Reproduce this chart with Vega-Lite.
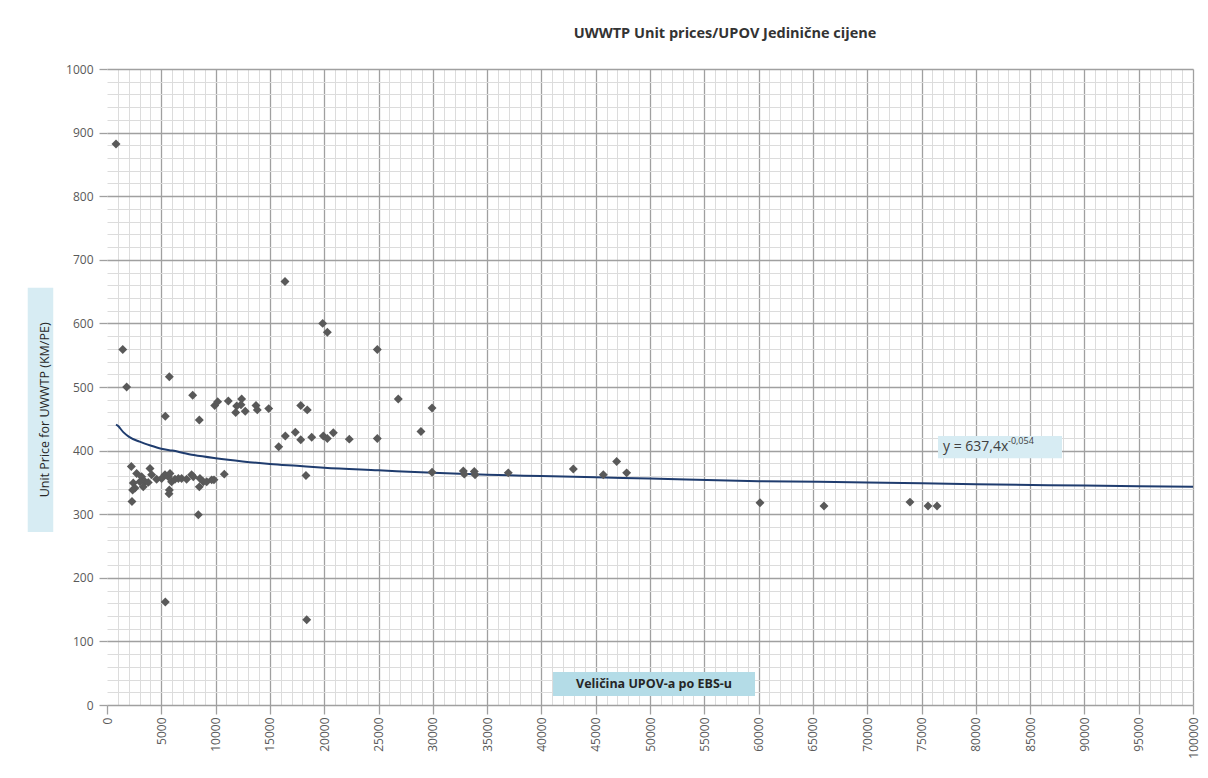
{
  "$schema": "https://vega.github.io/schema/vega-lite/v6.json",
  "autosize": "none",
  "width": 1086,
  "height": 636,
  "padding": {"left": 107, "top": 69, "right": 15, "bottom": 73},
  "background": "white",
  "config": {
    "view": {"stroke": null},
    "font": "Open Sans"
  },
  "title": {
    "text": "UWWTP Unit prices/UPOV Jedinične cijene",
    "fontSize": 14.5,
    "fontWeight": "bold",
    "font": "Open Sans",
    "color": "#333333",
    "anchor": "middle",
    "dx": 75,
    "offset": 22
  },
  "datasets": {
    "points": [
      {"size": 830, "price": 882},
      {"size": 1450, "price": 559},
      {"size": 1810, "price": 500},
      {"size": 2240, "price": 375},
      {"size": 2730, "price": 364},
      {"size": 3190, "price": 359},
      {"size": 3500, "price": 351},
      {"size": 3040, "price": 351},
      {"size": 2420, "price": 349},
      {"size": 2580, "price": 341},
      {"size": 2360, "price": 338},
      {"size": 2300, "price": 320},
      {"size": 3960, "price": 372},
      {"size": 4110, "price": 362},
      {"size": 3800, "price": 350},
      {"size": 3340, "price": 343},
      {"size": 4570, "price": 355},
      {"size": 5030, "price": 356},
      {"size": 5340, "price": 362},
      {"size": 5650, "price": 359},
      {"size": 5800, "price": 364},
      {"size": 5950, "price": 351},
      {"size": 5740, "price": 338},
      {"size": 5710, "price": 332},
      {"size": 6260, "price": 355},
      {"size": 6570, "price": 356},
      {"size": 6870, "price": 356},
      {"size": 7330, "price": 355},
      {"size": 7790, "price": 362},
      {"size": 7950, "price": 359},
      {"size": 8560, "price": 356},
      {"size": 8500, "price": 343},
      {"size": 8870, "price": 351},
      {"size": 9180, "price": 351},
      {"size": 9640, "price": 354},
      {"size": 9850, "price": 354},
      {"size": 5740, "price": 516},
      {"size": 5370, "price": 454},
      {"size": 7890, "price": 487},
      {"size": 8500, "price": 448},
      {"size": 9920, "price": 471},
      {"size": 10190, "price": 477},
      {"size": 11170, "price": 478},
      {"size": 11850, "price": 460},
      {"size": 11940, "price": 470},
      {"size": 12400, "price": 481},
      {"size": 12730, "price": 462},
      {"size": 12340, "price": 472},
      {"size": 13720, "price": 471},
      {"size": 13840, "price": 464},
      {"size": 14890, "price": 466},
      {"size": 15810, "price": 406},
      {"size": 16420, "price": 423},
      {"size": 17340, "price": 429},
      {"size": 17840, "price": 417},
      {"size": 17840, "price": 471},
      {"size": 18440, "price": 464},
      {"size": 18320, "price": 361},
      {"size": 18390, "price": 134},
      {"size": 18850, "price": 421},
      {"size": 19920, "price": 423},
      {"size": 20290, "price": 419},
      {"size": 20840, "price": 428},
      {"size": 5370, "price": 162},
      {"size": 8410, "price": 299},
      {"size": 10800, "price": 363},
      {"size": 16390, "price": 666},
      {"size": 19860, "price": 600},
      {"size": 20290, "price": 586},
      {"size": 22310, "price": 418},
      {"size": 24890, "price": 559},
      {"size": 26820, "price": 481},
      {"size": 29930, "price": 467},
      {"size": 28910, "price": 430},
      {"size": 24890, "price": 419},
      {"size": 29930, "price": 366},
      {"size": 32810, "price": 368},
      {"size": 32900, "price": 363},
      {"size": 33820, "price": 367},
      {"size": 33890, "price": 362},
      {"size": 36950, "price": 365},
      {"size": 42940, "price": 371},
      {"size": 45700, "price": 362},
      {"size": 46930, "price": 383},
      {"size": 47850, "price": 365},
      {"size": 60130, "price": 318},
      {"size": 66020, "price": 313},
      {"size": 73940, "price": 319},
      {"size": 75600, "price": 313},
      {"size": 76430, "price": 313}
    ],
    "trend": [
      {"size": 830, "price": 441},
      {"size": 1000, "price": 439},
      {"size": 1500, "price": 429},
      {"size": 2000, "price": 422},
      {"size": 3000, "price": 414},
      {"size": 4000, "price": 408},
      {"size": 5000, "price": 403},
      {"size": 6000, "price": 400},
      {"size": 8000, "price": 393},
      {"size": 10000, "price": 388},
      {"size": 12500, "price": 383},
      {"size": 15000, "price": 379},
      {"size": 17500, "price": 376},
      {"size": 20000, "price": 373},
      {"size": 25000, "price": 369},
      {"size": 30000, "price": 365},
      {"size": 35000, "price": 362},
      {"size": 40000, "price": 360},
      {"size": 45000, "price": 358},
      {"size": 50000, "price": 356},
      {"size": 60000, "price": 352},
      {"size": 70000, "price": 350},
      {"size": 80000, "price": 347},
      {"size": 90000, "price": 345},
      {"size": 100000, "price": 343}
    ],
    "labels": [
      {"kind": "xtitle", "text": "Veličina UPOV-a po EBS-u", "x": 50370, "y": 33, "x1": 41070, "x2": 59670, "y1": 14, "y2": 52},
      {"kind": "eq", "text": "y = 637,4x", "x": 76980, "y": 405, "x1": 76520, "x2": 87940, "y1": 388, "y2": 423},
      {"kind": "ytitle", "text": "Unit Price for UWWTP (KM/PE)", "x": -5710, "y": 464, "x1": -7300, "x2": -4950, "y1": 272, "y2": 656}
    ]
  },
  "resolve": {"axis": {"x": "independent", "y": "independent"}},
  "layer": [
    {
      "data": {"name": "points"},
      "mark": {"type": "point", "opacity": 0},
      "encoding": {
        "x": {
          "field": "size", "type": "quantitative",
          "scale": {"domain": [0, 100000], "nice": false, "zero": false},
          "axis": {
            "orient": "top", "title": null, "labels": false, "ticks": false, "domain": false,
            "grid": true, "gridColor": "#dcdcdc", "gridWidth": 1,
            "values": [1000,2000,3000,4000,6000,7000,8000,9000,11000,12000,13000,14000,16000,17000,18000,19000,21000,22000,23000,24000,26000,27000,28000,29000,31000,32000,33000,34000,36000,37000,38000,39000,41000,42000,43000,44000,46000,47000,48000,49000,51000,52000,53000,54000,56000,57000,58000,59000,61000,62000,63000,64000,66000,67000,68000,69000,71000,72000,73000,74000,76000,77000,78000,79000,81000,82000,83000,84000,86000,87000,88000,89000,91000,92000,93000,94000,96000,97000,98000,99000]
          }
        },
        "y": {
          "field": "price", "type": "quantitative",
          "scale": {"domain": [0, 1000], "nice": false, "zero": false},
          "axis": {
            "orient": "right", "title": null, "labels": false, "ticks": false, "domain": false,
            "grid": true, "gridColor": "#dcdcdc", "gridWidth": 1,
            "values": [20,40,60,80,120,140,160,180,220,240,260,280,320,340,360,380,420,440,460,480,520,540,560,580,620,640,660,680,720,740,760,780,820,840,860,880,920,940,960,980]
          }
        }
      }
    },
    {
      "data": {"name": "trend"},
      "mark": {"type": "line", "color": "#1f3c6e", "strokeWidth": 2, "interpolate": "monotone"},
      "encoding": {
        "x": {
          "field": "size", "type": "quantitative",
          "axis": {
            "orient": "bottom", "title": null, "domain": false,
            "grid": true,
            "gridColor": {"condition": {"test": "datum.value === 0", "value": "transparent"}, "value": "#a0a0a0"},
            "gridWidth": 1.3,
            "ticks": true, "tickColor": "#a0a0a0", "tickSize": 9, "tickWidth": 1.3,
            "labelAngle": 270, "labelAlign": "right", "labelBaseline": "middle", "labelPadding": 3,
            "labelFontSize": 12, "labelColor": "#595959", "labelFont": "Open Sans",
            "format": "d", "labelOverlap": false,
            "values": [0,5000,10000,15000,20000,25000,30000,35000,40000,45000,50000,55000,60000,65000,70000,75000,80000,85000,90000,95000,100000]
          }
        },
        "y": {
          "field": "price", "type": "quantitative",
          "axis": {
            "orient": "left", "title": null, "domain": false,
            "grid": true, "gridColor": "#a0a0a0", "gridWidth": 1.3,
            "ticks": true, "tickColor": "#a0a0a0", "tickSize": 8, "tickWidth": 1.3,
            "labelPadding": 6, "labelFontSize": 12, "labelColor": "#595959", "labelFont": "Open Sans",
            "format": "d",
            "values": [0,100,200,300,400,500,600,700,800,900,1000]
          }
        }
      }
    },
    {
      "data": {"name": "points"},
      "mark": {"type": "point", "shape": "diamond", "filled": true, "color": "#595959", "opacity": 1, "size": 80},
      "encoding": {
        "x": {"field": "size", "type": "quantitative", "axis": null},
        "y": {"field": "price", "type": "quantitative", "axis": null}
      }
    },
    {
      "data": {"name": "labels"},
      "transform": [{"filter": "datum.kind === 'xtitle'"}],
      "mark": {"type": "rect", "color": "#b4dce7"},
      "encoding": {
        "x": {"field": "x1", "type": "quantitative", "axis": null},
        "x2": {"field": "x2"},
        "y": {"field": "y1", "type": "quantitative", "axis": null},
        "y2": {"field": "y2"}
      }
    },
    {
      "data": {"name": "labels"},
      "transform": [{"filter": "datum.kind !== 'xtitle'"}],
      "mark": {"type": "rect", "color": "#d7ecf3"},
      "encoding": {
        "x": {"field": "x1", "type": "quantitative", "axis": null},
        "x2": {"field": "x2"},
        "y": {"field": "y1", "type": "quantitative", "axis": null},
        "y2": {"field": "y2"}
      }
    },
    {
      "data": {"name": "labels"},
      "transform": [{"filter": "datum.kind === 'xtitle'"}],
      "mark": {"type": "text", "fontSize": 12.5, "fontWeight": "bold", "color": "#262626", "align": "center", "baseline": "middle", "font": "Open Sans"},
      "encoding": {
        "x": {"field": "x", "type": "quantitative", "axis": null},
        "y": {"field": "y", "type": "quantitative", "axis": null},
        "text": {"field": "text"}
      }
    },
    {
      "data": {"name": "labels"},
      "transform": [{"filter": "datum.kind === 'eq'"}],
      "mark": {"type": "text", "fontSize": 14, "color": "#404040", "align": "left", "baseline": "middle", "font": "Open Sans"},
      "encoding": {
        "x": {"field": "x", "type": "quantitative", "axis": null},
        "y": {"field": "y", "type": "quantitative", "axis": null},
        "text": {"field": "text"}
      }
    },
    {
      "data": {"name": "labels"},
      "transform": [{"filter": "datum.kind === 'eq'"}],
      "mark": {"type": "text", "fontSize": 9, "color": "#404040", "align": "left", "baseline": "middle", "font": "Open Sans", "dx": 65, "dy": -6},
      "encoding": {
        "x": {"field": "x", "type": "quantitative", "axis": null},
        "y": {"field": "y", "type": "quantitative", "axis": null},
        "text": {"value": "-0,054"}
      }
    },
    {
      "data": {"name": "labels"},
      "transform": [{"filter": "datum.kind === 'ytitle'"}],
      "mark": {"type": "text", "fontSize": 12.5, "color": "#262626", "align": "center", "baseline": "middle", "angle": 270, "font": "Open Sans"},
      "encoding": {
        "x": {"field": "x", "type": "quantitative", "axis": null},
        "y": {"field": "y", "type": "quantitative", "axis": null},
        "text": {"field": "text"}
      }
    }
  ]
}
